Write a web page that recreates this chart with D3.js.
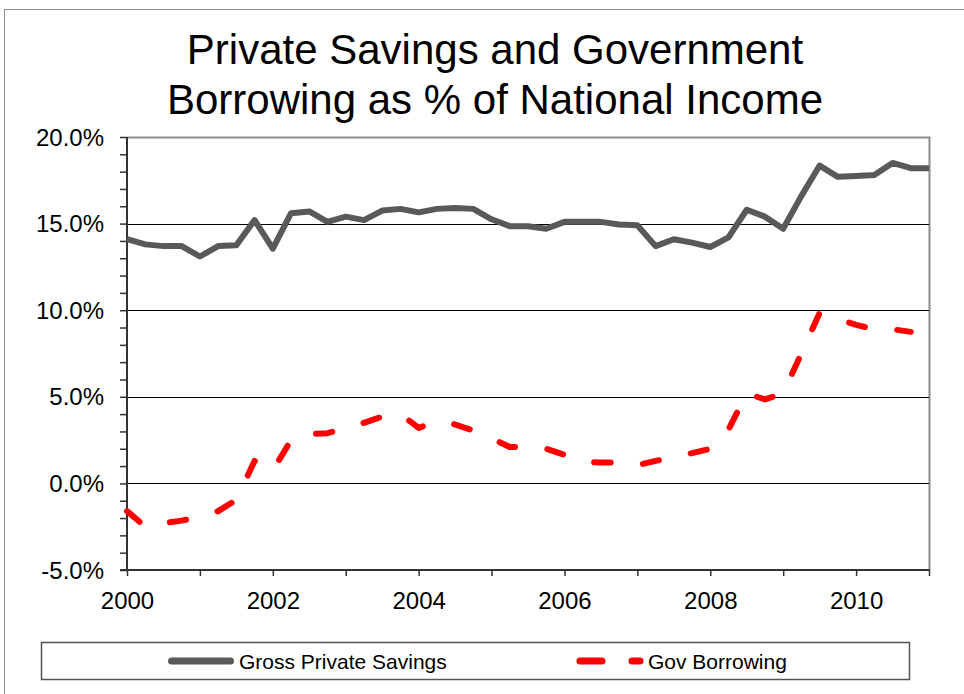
<!DOCTYPE html>
<meta charset="utf-8">

<head>
    <title>Private Savings and Government Borrowing</title>

    <script type="text/javascript" src="https://cdn.jsdelivr.net/npm/d3@7"></script>

    <style>
        body {
            margin: 0;
            background: white;
        }

        svg text {
            font-family: "Liberation Sans", Arial, sans-serif;
            fill: black;
        }
    </style>
</head>

<body>
    <div id="chart"></div>

    <script>

        // quarters as decimal years (2000 Q1 ... 2011 Q1)
        var quarters = [
            2000.00, 2000.25, 2000.50, 2000.75, 2001.00, 2001.25, 2001.50, 2001.75,
            2002.00, 2002.25, 2002.50, 2002.75, 2003.00, 2003.25, 2003.50, 2003.75,
            2004.00, 2004.25, 2004.50, 2004.75, 2005.00, 2005.25, 2005.50, 2005.75,
            2006.00, 2006.25, 2006.50, 2006.75, 2007.00, 2007.25, 2007.50, 2007.75,
            2008.00, 2008.25, 2008.50, 2008.75, 2009.00, 2009.25, 2009.50, 2009.75,
            2010.00, 2010.25, 2010.50, 2010.75, 2011.00
        ];

        // Gross Private Savings, % of national income
        var savings = [
            14.1, 13.8, 13.7, 13.7, 13.1, 13.7, 13.75, 15.2,
            13.55, 15.6, 15.7, 15.1, 15.4, 15.2, 15.75, 15.85,
            15.65, 15.85, 15.9, 15.85, 15.25, 14.85, 14.85, 14.7,
            15.1, 15.1, 15.1, 14.95, 14.9, 13.7, 14.1, 13.9,
            13.65, 14.2, 15.8, 15.4, 14.7, 16.6, 18.35, 17.7,
            17.75, 17.8, 18.5, 18.2, 18.2
        ];

        // Government borrowing, % of national income (ends one quarter earlier)
        var borrowing = [
            -1.6, -2.5, -2.3, -2.15, -1.95, -1.6, -0.95, 1.3,
            0.75, 2.5, 2.85, 2.9, 3.2, 3.5, 3.85, 4.0,
            3.2, 3.6, 3.4, 3.05, 2.6, 2.1, 2.1, 2.0,
            1.65, 1.25, 1.2, 1.2, 1.05, 1.3, 1.5, 1.75,
            2.0, 3.1, 5.2, 4.85, 5.2, 7.5, 9.85, 9.5,
            9.15, 8.9, 8.9, 8.75
        ];

        var yTicks = [-5, 0, 5, 10, 15, 20];
        var xTickLabels = [2000, 2002, 2004, 2006, 2008, 2010];
        var titleLines = ["Private Savings and Government", "Borrowing as % of National Income"];
        var seriesNames = ["Gross Private Savings", "Gov Borrowing"];

        var width = 964;
        var height = 694;
        var plot = { left: 127, right: 929, top: 137, bottom: 570 };

        var svg = d3.select("#chart")
            .append("svg")
            .attr("width", width)
            .attr("height", height);

        // outer chart frame
        svg.append("rect")
            .attr("x", 4.5)
            .attr("y", 9.5)
            .attr("width", 980)
            .attr("height", 700)
            .attr("fill", "white")
            .attr("stroke", "#8c8c8c")
            .attr("stroke-width", 1);

        // title
        svg.append("text")
            .attr("text-anchor", "middle")
            .style("font-size", "42px")
            .selectAll("tspan")
            .data(titleLines)
            .enter()
            .append("tspan")
            .attr("x", 495)
            .attr("y", function (d, i) { return 64 + i * 50; })
            .text(function (d) { return d; });

        var x = d3.scaleLinear()
            .domain([2000, 2011])
            .range([plot.left, plot.right]);

        var y = d3.scaleLinear()
            .domain([-5, 20])
            .range([plot.bottom, plot.top]);

        // plot area border (top + right)
        svg.append("path")
            .attr("d", "M" + plot.left + "," + (plot.top + 0.5) + "H" + (plot.right + 0.5) + "V" + plot.bottom)
            .attr("fill", "none")
            .attr("stroke", "#8c8c8c")
            .attr("stroke-width", 2);

        // horizontal gridlines
        svg.selectAll(".grid")
            .data(yTicks.filter(function (d) { return d > -5 && d < 20; }))
            .enter()
            .append("line")
            .attr("class", "grid")
            .attr("x1", plot.left)
            .attr("x2", plot.right)
            .attr("y1", function (d) { return Math.round(y(d)) + 0.5; })
            .attr("y2", function (d) { return Math.round(y(d)) + 0.5; })
            .attr("stroke", "#000")
            .attr("stroke-width", 1);

        // y axis with minor ticks every 1%
        var yAxis = d3.axisLeft(y)
            .tickValues(d3.range(-5, 21, 1))
            .tickSize(7)
            .tickFormat(function (d) { return yTicks.indexOf(d) >= 0 ? d.toFixed(1) + "%" : ""; });

        var gy = svg.append("g")
            .attr("transform", "translate(" + plot.left + ",0)")
            .call(yAxis);

        gy.select(".domain").remove();
        gy.selectAll(".tick line").attr("stroke", "#333").attr("stroke-width", 1.5);
        gy.selectAll(".tick text")
            .attr("x", -23)
            .attr("dy", "0.34em")
            .style("font-size", "24px")
            .style("font-family", "'Liberation Sans', Arial, sans-serif")
            .attr("fill", "black");

        gy.append("line")
            .attr("x1", 0).attr("x2", 0)
            .attr("y1", plot.top).attr("y2", plot.bottom)
            .attr("stroke", "#333")
            .attr("stroke-width", 2);

        // x axis, ticks every year, labels every two years
        var xAxis = d3.axisBottom(x)
            .tickValues(d3.range(2000, 2012, 1))
            .tickSize(6)
            .tickFormat(function (d) { return xTickLabels.indexOf(d) >= 0 ? d : ""; });

        var gx = svg.append("g")
            .attr("transform", "translate(0," + plot.bottom + ")")
            .call(xAxis);

        gx.select(".domain").remove();
        gx.selectAll(".tick line").attr("stroke", "#333").attr("stroke-width", 1.5);
        gx.selectAll(".tick text")
            .attr("y", 22)
            .attr("dy", "0.71em")
            .style("font-size", "24px")
            .style("font-family", "'Liberation Sans', Arial, sans-serif")
            .attr("fill", "black");

        gx.append("line")
            .attr("x1", plot.left - 7).attr("x2", plot.right + 1)
            .attr("y1", 0).attr("y2", 0)
            .attr("stroke", "#333")
            .attr("stroke-width", 2);

        // line generator
        var line = d3.line()
            .x(function (d) { return x(d.q); })
            .y(function (d) { return y(d.v); });

        var savingsData = savings.map(function (v, i) { return { q: quarters[i], v: v }; });
        var borrowingData = borrowing.map(function (v, i) { return { q: quarters[i], v: v }; });

        svg.append("path")
            .datum(savingsData)
            .attr("d", line)
            .attr("fill", "none")
            .attr("stroke", "#595959")
            .attr("stroke-width", 6)
            .attr("stroke-linejoin", "round");

        svg.append("path")
            .datum(borrowingData)
            .attr("d", line)
            .attr("fill", "none")
            .attr("stroke", "#ff0000")
            .attr("stroke-width", 6)
            .attr("stroke-linejoin", "round")
            .attr("stroke-linecap", "round")
            .attr("stroke-dasharray", "16.5,32.5");

        // legend
        var legend = svg.append("g").attr("class", "legend");

        legend.append("rect")
            .attr("x", 41.5)
            .attr("y", 642.5)
            .attr("width", 868)
            .attr("height", 37)
            .attr("fill", "white")
            .attr("stroke", "#555")
            .attr("stroke-width", 1.5);

        legend.append("line")
            .attr("x1", 171.5).attr("x2", 230.5)
            .attr("y1", 661).attr("y2", 661)
            .attr("stroke", "#595959")
            .attr("stroke-width", 7)
            .attr("stroke-linecap", "round");

        legend.append("text")
            .attr("x", 239)
            .attr("y", 668.5)
            .style("font-size", "21px")
            .text(seriesNames[0]);

        legend.append("line")
            .attr("x1", 580).attr("x2", 640)
            .attr("y1", 661).attr("y2", 661)
            .attr("stroke", "#ff0000")
            .attr("stroke-width", 7)
            .attr("stroke-linecap", "round")
            .attr("stroke-dasharray", "22,30");

        legend.append("text")
            .attr("x", 648)
            .attr("y", 668.5)
            .style("font-size", "21px")
            .text(seriesNames[1]);

    </script>

</body>

</html>
